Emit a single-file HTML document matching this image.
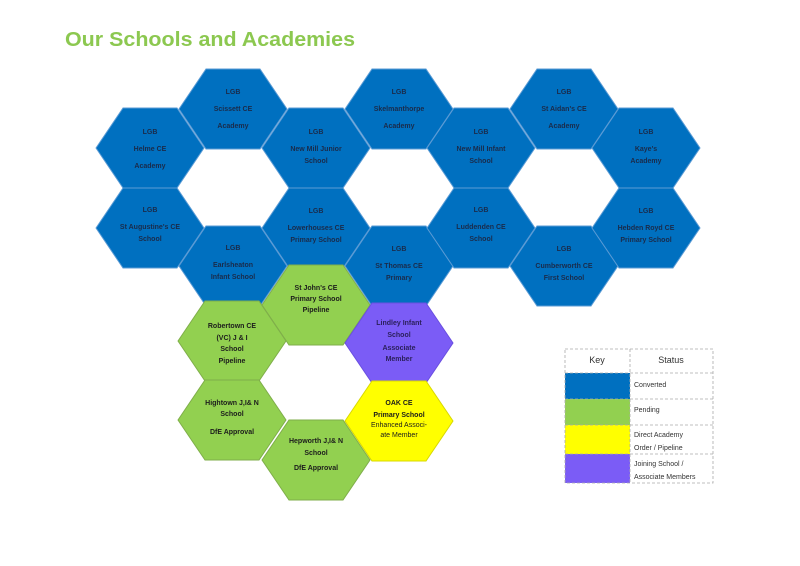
<!DOCTYPE html>
<html><head><meta charset="utf-8"><style>
html,body{margin:0;padding:0;background:#fff;}
svg{display:block;}
.t{font-family:"Liberation Sans",sans-serif;font-weight:bold;font-size:7px;text-anchor:middle;}
.b{fill:#1a2b4a;}
.k{fill:#1c1c1c;}
.lg{font-family:"Liberation Sans",sans-serif;font-size:7px;fill:#333;}
</style></head><body>
<svg width="800" height="566" viewBox="0 0 800 566" xmlns="http://www.w3.org/2000/svg">
<text x="65" y="46" font-family="Liberation Sans, sans-serif" font-weight="bold" font-size="20" fill="#8cc850" textLength="290" lengthAdjust="spacingAndGlyphs">Our Schools and Academies</text>
<defs>
<polygon id="h" points="-54,0 -27,-40 27,-40 54,0 27,40 -27,40"/>
</defs>
<g stroke="#5b9bd5" stroke-width="1" fill="#0070c0">
<use href="#h" x="150" y="148"/>
<use href="#h" x="233" y="109"/>
<use href="#h" x="316" y="148"/>
<use href="#h" x="399" y="109"/>
<use href="#h" x="481" y="148"/>
<use href="#h" x="564" y="109"/>
<use href="#h" x="646" y="148"/>
<use href="#h" x="150" y="228"/>
<use href="#h" x="233" y="266"/>
<use href="#h" x="316" y="228"/>
<use href="#h" x="399" y="266"/>
<use href="#h" x="481" y="228"/>
<use href="#h" x="564" y="266"/>
<use href="#h" x="646" y="228"/>
</g>
<g stroke="#7fae4a" stroke-width="1" fill="#92d050">
<use href="#h" x="316" y="305"/>
<use href="#h" x="232" y="341"/>
<use href="#h" x="232" y="420"/>
<use href="#h" x="316" y="460"/>
</g>
<use href="#h" x="399" y="343" fill="#7b5cf6" stroke="#6a4fe0"/>
<use href="#h" x="399" y="421" fill="#ffff00" stroke="#d8d800"/>

<g class="t b">
<text x="233" y="94">LGB</text><text x="233" y="111">Scissett CE</text><text x="233" y="128">Academy</text>
<text x="399" y="94">LGB</text><text x="399" y="111">Skelmanthorpe</text><text x="399" y="128">Academy</text>
<text x="564" y="94">LGB</text><text x="564" y="111">St Aidan's CE</text><text x="564" y="128">Academy</text>
<text x="150" y="134">LGB</text><text x="150" y="151">Helme CE</text><text x="150" y="168">Academy</text>
<text x="316" y="134">LGB</text><text x="316" y="151">New Mill Junior</text><text x="316" y="163">School</text>
<text x="481" y="134">LGB</text><text x="481" y="151">New Mill Infant</text><text x="481" y="163">School</text>
<text x="646" y="134">LGB</text><text x="646" y="151">Kaye's</text><text x="646" y="163">Academy</text>
<text x="150" y="212">LGB</text><text x="150" y="229">St Augustine's CE</text><text x="150" y="241">School</text>
<text x="316" y="213">LGB</text><text x="316" y="230">Lowerhouses CE</text><text x="316" y="242">Primary School</text>
<text x="481" y="212">LGB</text><text x="481" y="229">Luddenden CE</text><text x="481" y="241">School</text>
<text x="646" y="213">LGB</text><text x="646" y="230">Hebden Royd CE</text><text x="646" y="242">Primary School</text>
<text x="233" y="250">LGB</text><text x="233" y="267">Earlsheaton</text><text x="233" y="279">Infant School</text>
<text x="399" y="251">LGB</text><text x="399" y="268">St Thomas CE</text><text x="399" y="280">Primary</text>
<text x="564" y="251">LGB</text><text x="564" y="268">Cumberworth CE</text><text x="564" y="280">First School</text>
</g>
<g class="t k">
<text x="316" y="290">St John's CE</text><text x="316" y="301">Primary School</text><text x="316" y="312">Pipeline</text>
<text x="232" y="328">Robertown CE</text><text x="232" y="340">(VC) J &amp; I</text><text x="232" y="351">School</text><text x="232" y="363">Pipeline</text>
<text x="232" y="405">Hightown J,I&amp; N</text><text x="232" y="416">School</text><text x="232" y="434">DfE Approval</text>
<text x="316" y="443">Hepworth J,I&amp; N</text><text x="316" y="455">School</text><text x="316" y="470">DfE Approval</text>
<text x="399" y="405">OAK CE</text><text x="399" y="417">Primary School</text>
<text x="399" y="427" font-weight="normal">Enhanced Associ-</text><text x="399" y="437" font-weight="normal">ate Member</text>
</g>
<g class="t" fill="#2a1f5a">
<text x="399" y="325">Lindley Infant</text><text x="399" y="337">School</text><text x="399" y="350">Associate</text><text x="399" y="361">Member</text>
</g>

<g>
<rect x="565" y="373" width="65" height="26" fill="#0070c0"/>
<rect x="565" y="399" width="65" height="26" fill="#92d050"/>
<rect x="565" y="425" width="65" height="29" fill="#ffff00"/>
<rect x="565" y="454" width="65" height="29" fill="#7b5cf6"/>
<g stroke="#aaa" stroke-width="0.8" stroke-dasharray="3,2" fill="none">
<rect x="565" y="349" width="148" height="134"/>
<line x1="630" y1="349" x2="630" y2="483"/>
<line x1="565" y1="373" x2="713" y2="373"/>
<line x1="565" y1="399" x2="713" y2="399"/>
<line x1="565" y1="425" x2="713" y2="425"/>
<line x1="565" y1="454" x2="713" y2="454"/>
</g>
<text x="597" y="363" font-family="Liberation Sans, sans-serif" font-size="9" fill="#333" text-anchor="middle">Key</text>
<text x="671" y="363" font-family="Liberation Sans, sans-serif" font-size="9" fill="#333" text-anchor="middle">Status</text>
<text class="lg" x="634" y="387">Converted</text>
<text class="lg" x="634" y="412">Pending</text>
<text class="lg" x="634" y="437">Direct Academy</text>
<text class="lg" x="634" y="450">Order / Pipeline</text>
<text class="lg" x="634" y="466">Joining School /</text>
<text class="lg" x="634" y="479">Associate Members</text>
</g>
</svg>
</body></html>
